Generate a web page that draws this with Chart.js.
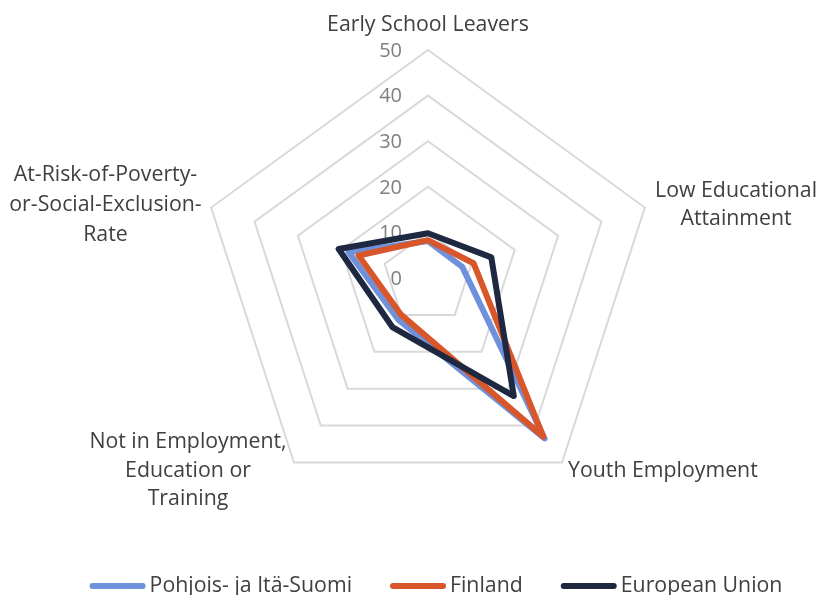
<!DOCTYPE html>
<html><head><meta charset="utf-8">
<script src="https://cdn.jsdelivr.net/npm/chart.js@4.4.0/dist/chart.umd.min.js"></script>
<style>html,body{margin:0;padding:0;background:#fff}</style>
</head><body>
<canvas id="c" width="820" height="595"></canvas>
<script>
const categories = [["Early School Leavers"], ["Low Educational", "Attainment"], ["Youth Employment"], ["Not in Employment,", "Education or", "Training"], ["At-Risk-of-Poverty-", "or-Social-Exclusion-", "Rate"]];
const seriesNames = ["Pohjois- ja Itä-Suomi", "Finland", "European Union"];
const pohjoisItaSuomi = [8.1, 7.9, 43.5, 11.2, 18.3];
const finland = [8.3, 10.5, 43.0, 10.0, 16.0];
const europeanUnion = [9.8, 14.6, 32.0, 13.3, 20.6];
const tickValues = [0, 10, 20, 30, 40, 50];

const colors = ['#6F91DB', '#D8562A', '#1E2841'];
const FONT = '"Open Sans", "Noto Sans", sans-serif';

// label layout relative to outer vertices: [dx, dy(first baseline), lineHeight]
const labelLayout = [[0, -19.3, 28], [91.2, -10.2, 27.7], [101, 14.2, 28], [-106, -14.2, 28.4], [-105.7, -26.8, 30]];

const textPlugin = {
  id: 'excelText',
  beforeDatasetsDraw(chart) {
    const s = chart.scales.r, ctx = chart.ctx;
    ctx.save();
    ctx.font = '20px ' + FONT;
    ctx.fillStyle = '#7f7f7f';
    ctx.textAlign = 'right';
    ctx.textBaseline = 'middle';
    s.ticks.forEach(t => {
      const d = s.getDistanceFromCenterForValue(t.value);
      ctx.fillText(t.label, s.xCenter - 26, s.yCenter - d + 1);
    });
    ctx.restore();
  },
  afterDraw(chart) {
    const s = chart.scales.r, ctx = chart.ctx;
    ctx.save();
    ctx.font = '21.3px ' + FONT;
    ctx.fillStyle = '#404040';
    ctx.textAlign = 'center';
    ctx.textBaseline = 'alphabetic';
    chart.data.labels.forEach((lines, i) => {
      const p = s.getPointPosition(i, s.drawingArea);
      const [dx, dy, lh] = labelLayout[i];
      if (i === 2) {
        ctx.textAlign = 'left';
        ctx.fillText(lines[0], p.x + 6, p.y + dy);
        ctx.textAlign = 'center';
      } else {
        lines.forEach((ln, k) => ctx.fillText(ln, p.x + dx, p.y + dy + k * lh));
      }
    });
    // legend
    ctx.font = '21.3px ' + FONT;
    ctx.textAlign = 'left';
    const lineLen = 56, gapText = 4, gapItem = 38;
    const items = chart.data.datasets.map(d => ({ text: d.label, color: d.borderColor, w: ctx.measureText(d.label).width }));
    const total = items.reduce((a, it) => a + lineLen + gapText + it.w, 0) + gapItem * (items.length - 1);
    let x = 436 - total / 2;
    const ly = 586;
    items.forEach(it => {
      ctx.beginPath();
      ctx.strokeStyle = it.color;
      ctx.lineWidth = 6;
      ctx.lineCap = 'round';
      ctx.moveTo(x + 3, ly);
      ctx.lineTo(x + lineLen - 3, ly);
      ctx.stroke();
      ctx.fillStyle = '#404040';
      ctx.fillText(it.text, x + lineLen + gapText, ly + 6);
      x += lineLen + gapText + it.w + gapItem;
    });
    ctx.restore();
  }
};

const seriesData = [pohjoisItaSuomi, finland, europeanUnion];
const drawOrder = [2, 1, 0];

new Chart(document.getElementById('c'), {
  type: 'radar',
  data: {
    labels: categories,
    datasets: seriesNames.map((name, i) => ({
      label: name,
      data: seriesData[i],
      borderColor: colors[i],
      backgroundColor: colors[i],
      borderWidth: 6,
      fill: false,
      pointRadius: 0,
      pointHoverRadius: 0,
      borderJoinStyle: 'round',
      borderCapStyle: 'round',
      tension: 0,
      order: drawOrder[i]
    }))
  },
  options: {
    responsive: false,
    devicePixelRatio: 1,
    animation: false,
    layout: { padding: { top: 50, bottom: 89, left: 36, right: 0 } },
    plugins: { legend: { display: false }, tooltip: { enabled: false } },
    scales: {
      r: {
        min: 0,
        max: 50,
        afterBuildTicks(scale) { scale.ticks = tickValues.map(v => ({ value: v })); },
        ticks: { display: false, stepSize: 10, callback: v => String(v) },
        pointLabels: { display: false },
        angleLines: { display: false },
        grid: { color: '#d9d9d9', lineWidth: 2, circular: false }
      }
    }
  },
  plugins: [textPlugin]
});
</script>
</body></html>
